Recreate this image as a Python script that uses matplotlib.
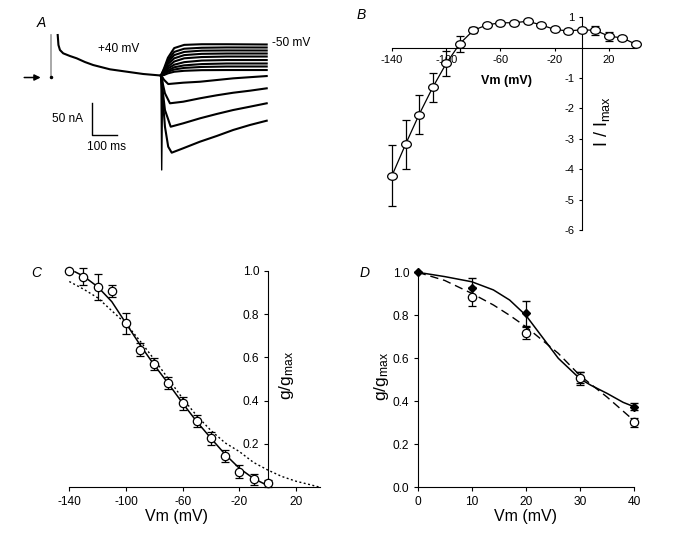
import matplotlib
matplotlib.use("Agg")
import matplotlib.pyplot as plt
from matplotlib.path import Path
from matplotlib.transforms import Affine2D

plt.rcParams['font.family'] = ['Liberation Sans', 'DejaVu Sans']
plt.rcParams['mathtext.fontset'] = 'custom'
plt.rcParams['mathtext.rm'] = 'Liberation Sans'
plt.rcParams['mathtext.it'] = 'Liberation Sans:italic'
plt.rcParams['axes.unicode_minus'] = False
plt.rcParams['font.size'] = 8

W, H = 684, 535

# ---------------- panel A : current traces (ms, nA) ----------------
pre_t = [24, 27, 33, 46, 73, 100, 133, 166, 233, 300, 366, 437]
pre_i = [66.4, 50.8, 43, 37.8, 33.6, 30, 24.2, 19.5, 12.8, 9.1, 5.5, 3.1]

tail_t = [437, 450, 465, 490, 530, 600, 700, 860]
out_1 = [3, 15, 31, 46, 51, 52, 52, 51.6]
out_2 = [3, 13, 27, 40, 45, 46.5, 47, 46.9]
out_3 = [3, 12, 24, 35, 40, 42, 42.3, 42.2]
out_4 = [3, 11, 21, 30, 35, 37, 37.5, 37.5]
out_5 = [3, 9, 17, 25, 30, 32, 32.8, 32.8]
out_6 = [3, 8, 14, 20, 24, 26.5, 27.3, 27.3]
out_7 = [3, 6, 11, 16, 19, 21, 21.9, 21.9]
out_8 = [3, 5, 9, 12.5, 15, 16.5, 17.2, 17.2]
out_9 = [3, 4, 6.5, 9, 10.5, 11.5, 11.7, 11.7]

in1_t = [437, 450, 466, 526, 593, 726, 860]
in1_i = [3.1, -3.9, -10.2, -8.1, -6.6, -1.3, 2.3]
in2_t = [437, 453, 473, 526, 593, 660, 726, 793, 860]
in2_i = [3.1, -24.7, -40.3, -37.8, -32.5, -27.8, -23.8, -20.6, -16.9]
in3_t = [437, 453, 476, 526, 593, 660, 726, 793, 860]
in3_i = [3.1, -50.8, -76.9, -71.6, -63.8, -57, -50.8, -45.6, -40.3]
in4_t = [437, 453, 466, 480, 526, 593, 660, 726, 793, 860]
in4_i = [3.1, -76.9, -108.1, -117.5, -110.6, -100.3, -91.4, -82, -74.2, -67.5]
spike_t = [437, 440, 444]
spike_i = [3.1, -144.5, 0]

# ---------------- panel B : I-V ----------------
vb = [-140, -130, -120, -110, -100, -90, -80, -70, -60, -50, -40, -30, -20, -10, 0, 10, 20, 30, 40]
ib = [-4.21, -3.18, -2.2, -1.31, -0.52, 0.13, 0.57, 0.75, 0.82, 0.82, 0.87, 0.75, 0.6, 0.55, 0.59, 0.57, 0.38, 0.32, 0.11]
ib_err = [1.0, 0.8, 0.63, 0.49, 0.42, 0.27, 0.1, 0, 0, 0, 0, 0, 0, 0, 0, 0.15, 0.15, 0, 0]

# ---------------- panel C : g/gmax ----------------
vc = [-140, -130, -120, -110, -100, -90, -80, -70, -60, -50, -40, -30, -20, -10, 0]
gc = [1.0, 0.972, 0.923, 0.908, 0.757, 0.634, 0.568, 0.48, 0.388, 0.306, 0.226, 0.146, 0.072, 0.037, 0.018]
gc_err = [0, 0.04, 0.06, 0.028, 0.05, 0.03, 0.027, 0.028, 0.03, 0.027, 0.03, 0.028, 0.03, 0.025, 0.015]
fit_c_v = [-136, -130, -120, -110, -100, -90, -80, -70, -60, -50, -40, -30, -20, -10, 0]
fit_c_g = [0.995, 0.975, 0.926, 0.857, 0.757, 0.657, 0.564, 0.478, 0.388, 0.303, 0.226, 0.152, 0.088, 0.041, 0.008]
dot_c_v = [-140, -130, -120, -110, -100, -90, -80, -70, -60, -50, -40, -30, -20, -10, 0, 10, 20, 30, 37]
dot_c_g = [0.95, 0.915, 0.875, 0.815, 0.755, 0.675, 0.59, 0.5, 0.41, 0.33, 0.262, 0.205, 0.165, 0.115, 0.08, 0.05, 0.028, 0.012, 0.0]

# ---------------- panel D ----------------
vd = [0, 10, 20, 30, 40]
gd_fill = [1.0, 0.929, 0.809, 0.51, 0.375]
gd_fill_err = [0, 0.045, 0.059, 0.025, 0.015]
vd_open = [10, 20, 30, 40]
gd_open = [0.887, 0.716, 0.507, 0.302]
gd_open_err = [0.045, 0.028, 0.03, 0.022]
fit_d_v = [0, 5, 10, 14, 17, 20, 23, 26, 30, 32, 35, 38, 40]
fit_d_g = [1.0, 0.98, 0.956, 0.918, 0.871, 0.80, 0.70, 0.60, 0.505, 0.475, 0.437, 0.395, 0.375]
dash_d_v = [0, 5, 10, 14, 17, 20, 23, 26, 30, 35, 40]
dash_d_g = [1.0, 0.962, 0.902, 0.848, 0.80, 0.747, 0.685, 0.623, 0.52, 0.42, 0.31]


def box(l, t, r, b):
    return [l / W, 1 - b / H, (r - l) / W, (b - t) / H]


def fxy(x, y):
    return x / W, 1 - y / H


def no_clip(cont):
    for art in cont.get_children():
        art.set_clip_on(False)


fig = plt.figure(figsize=(W / 100, H / 100), dpi=100)

# ---- A ----
axA = fig.add_axes(box(10, 15, 300, 185))
axA.set_xlim(-166.8, 993.2)
axA.set_ylim(-168, 97.7)
axA.axis('off')
lw_tr = 1.5
axA.plot(pre_t, pre_i, color='k', lw=lw_tr)
for tr in [out_1, out_2, out_3, out_4, out_5, out_6, out_7, out_8, out_9]:
    axA.plot(tail_t, tr, color='k', lw=lw_tr)
for tt, ii in [(in1_t, in1_i), (in2_t, in2_i), (in3_t, in3_i), (in4_t, in4_i)]:
    axA.plot(tt, ii, color='k', lw=lw_tr)
axA.plot(spike_t, spike_i, color='k', lw=1.0)
axA.plot([-2.8, -2.8], [66.4, 0.8], color='#999999', lw=1.2)
axA.plot([-2.8], [0.5], 'ko', ms=1.5)
axA.annotate('', xy=(-33, 0), xytext=(-121, 0),
             arrowprops=dict(arrowstyle='-|>', color='k', lw=1.1, mutation_scale=9))
axA.plot([162.4, 162.4, 262.4], [-40.3, -89.8, -89.8], color='k', lw=1)
axA.text(266, 44.5, '+40 mV', ha='center', va='center', fontsize=8.6)
axA.text(880, 53.4, '-50 mV', ha='left', va='center', fontsize=8.6)
axA.text(126, -64.8, '50 nA', ha='right', va='center', fontsize=8.6)
axA.text(220, -108, '100 ms', ha='center', va='center', fontsize=8.6)
fig.text(*fxy(41.7, 23.3), 'A', style='italic', fontsize=10, ha='center', va='center')

# ---- B ----
ell = Affine2D().scale(1, 0.78).transform_path(Path.unit_circle())
axB = fig.add_axes(box(392, 17.3, 636, 230))
axB.set_xlim(-140, 40)
axB.set_ylim(-6, 1)
eb = axB.errorbar(vb, ib, yerr=ib_err, color='k', lw=0.9, elinewidth=0.9, capsize=2.6,
                  marker=ell, ms=7, mfc='white', mec='k', mew=0.9, zorder=3)
no_clip(eb)
for s in ['top', 'right']:
    axB.spines[s].set_visible(False)
axB.spines['left'].set_position(('data', 0))
axB.spines['bottom'].set_position(('data', 0))
axB.set_xticks([-140, -100, -60, -20, 20])
axB.set_yticks([1, -1, -2, -3, -4, -5, -6])
axB.set_yticklabels(['1', '-1', '-2', '-3', '-4', '-5', '-6'])
axB.tick_params(direction='out', length=2.5, width=0.8, pad=2.5, labelsize=8)
axB.patch.set_visible(False)
fig.text(*fxy(506.7, 81), 'Vm (mV)', fontweight='bold', fontsize=9, ha='center', va='center')
fig.text(*fxy(602, 121.7), r'I / I$_{\mathrm{max}}$', rotation=90, fontsize=13,
         ha='center', va='center')
fig.text(*fxy(361.7, 15), 'B', style='italic', fontsize=10, ha='center', va='center')

# ---- C ----
axC = fig.add_axes(box(69.3, 270.7, 320.1, 487.3))
axC.set_xlim(-140, 37)
axC.set_ylim(0, 1.0)
axC.plot(dot_c_v, dot_c_g, color='k', lw=1.0, dashes=(1.4, 1.8))
axC.plot(fit_c_v, fit_c_g, color='k', lw=1.1)
eb = axC.errorbar(vc, gc, yerr=gc_err, fmt='o', color='k', elinewidth=0.9, capsize=2.6,
                  ms=6, mfc='white', mec='k', mew=0.9, zorder=3)
no_clip(eb)
for s in ['top', 'right']:
    axC.spines[s].set_visible(False)
axC.spines['left'].set_position(('data', 0))
axC.set_xticks([-140, -100, -60, -20, 20])
axC.set_yticks([0.2, 0.4, 0.6, 0.8, 1.0])
axC.set_yticklabels(['0.2', '0.4', '0.6', '0.8', '1.0'])
axC.tick_params(direction='out', length=3, width=0.8, pad=3, labelsize=8.6)
axC.patch.set_visible(False)
fig.text(*fxy(176.7, 516.7), 'Vm (mV)', fontsize=11.5, ha='center', va='center')
fig.text(*fxy(286, 375), r'g/g$_{\mathrm{max}}$', rotation=90, fontsize=12.5,
         ha='center', va='center')
fig.text(*fxy(36, 272.7), 'C', style='italic', fontsize=10, ha='center', va='center')

# ---- D ----
axD = fig.add_axes(box(417.7, 272.3, 634, 487.3))
axD.set_xlim(0, 40)
axD.set_ylim(0, 1.0)
axD.plot(dash_d_v, dash_d_g, color='k', lw=1.0, dashes=(6, 3.5))
axD.plot(fit_d_v, fit_d_g, color='k', lw=1.1)
eb = axD.errorbar(vd, gd_fill, yerr=gd_fill_err, fmt='D', color='k', elinewidth=0.9, capsize=2.6,
                  ms=4.2, mfc='k', mec='k', zorder=3)
no_clip(eb)
eb = axD.errorbar(vd_open, gd_open, yerr=gd_open_err, fmt='o', color='k', elinewidth=0.9, capsize=2.6,
                  ms=6, mfc='white', mec='k', mew=0.9, zorder=4)
no_clip(eb)
for s in ['top', 'right']:
    axD.spines[s].set_visible(False)
axD.set_xticks([0, 10, 20, 30, 40])
axD.set_yticks([0.0, 0.2, 0.4, 0.6, 0.8, 1.0])
axD.set_yticklabels(['0.0', '0.2', '0.4', '0.6', '0.8', '1.0'])
axD.tick_params(direction='out', length=3, width=0.8, pad=3, labelsize=8.6)
fig.text(*fxy(525, 516.7), 'Vm (mV)', fontsize=11.5, ha='center', va='center')
fig.text(*fxy(381.7, 376.7), r'g/g$_{\mathrm{max}}$', rotation=90, fontsize=12.5,
         ha='center', va='center')
fig.text(*fxy(365, 272.7), 'D', style='italic', fontsize=10, ha='center', va='center')

fig.savefig('out.png', dpi=100)
